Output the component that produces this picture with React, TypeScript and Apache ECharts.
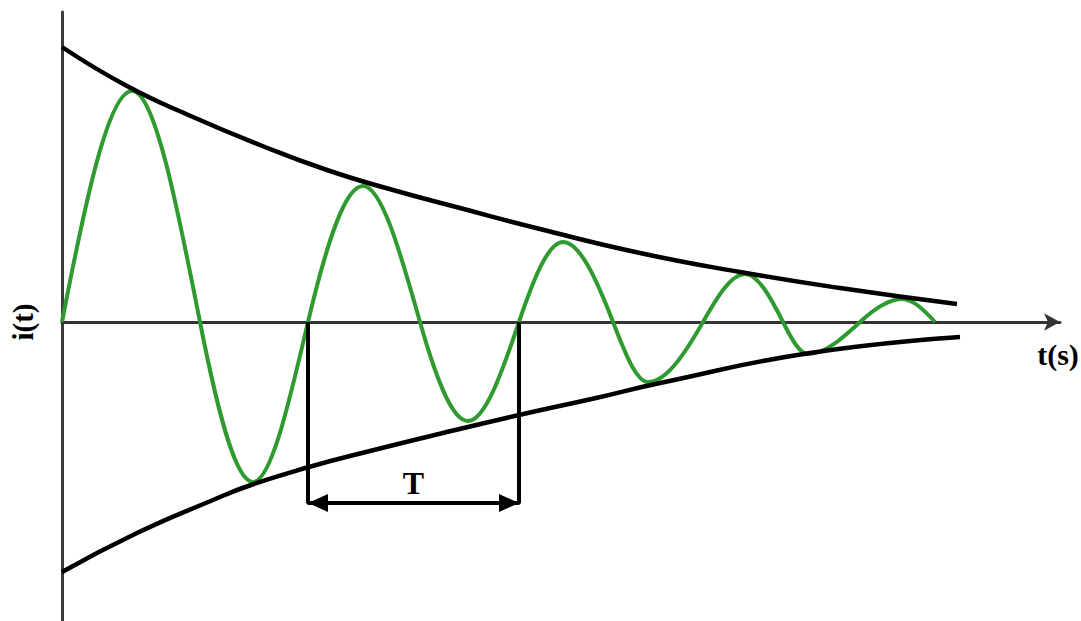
import React, { useEffect, useRef } from "react";
import * as echarts from "echarts";

// Upper decay envelope (t, i)
const tUpper = [0, 0.65, 1.31, 1.98, 2.65, 3.31, 3.98, 4.78, 5.78, 6.78, 7.78, 8.95];
const iUpper = [2.75, 2.36, 2.05, 1.77, 1.52, 1.32, 1.14, 0.93, 0.69, 0.5, 0.34, 0.18];

// Lower decay envelope (t, i)
const tLower = [0, 0.75, 1.51, 1.89, 2.47, 3.04, 3.81, 4.57, 5.34, 5.98, 7.48, 8.98];
const iLower = [-2.5, -2.11, -1.78, -1.63, -1.45, -1.3, -1.11, -0.93, -0.76, -0.61, -0.31, -0.15];

// Damped oscillation i(t): zero crossings and extrema
const tWave = [0, 0.7, 1.38, 1.91, 2.46, 3.01, 3.58, 4.06, 4.57, 5.01, 5.51, 5.86, 6.41, 6.83, 7.21, 7.46, 7.98, 8.4, 8.73];
const iWave = [0, 2.31, 0, -1.6, 0, 1.36, 0, -0.99, 0, 0.8, 0, -0.6, 0, 0.48, 0, -0.32, 0, 0.23, 0];

// Period marker
const periodStart = 2.46;
const periodEnd = 4.57;
const bracketLevel = -1.81;
const periodLabel = "T";

const xName = "t(s)";
const yName = "i(t)";

const zip = (a: number[], b: number[]) => a.map((v, k) => [v, b[k]]);

export default function App() {
  const ref = useRef<HTMLDivElement>(null);
  useEffect(() => {
    if (!ref.current) return;
    const chart = echarts.init(ref.current, null, { renderer: "svg" });
    const serif = "'Liberation Serif', 'Times New Roman', serif";

    // Wave drawn as a sinusoid-like Hermite curve through the read points
    const renderWave = (_params: any, api: any) => {
      const pts: number[][] = tWave.map((t, k) => api.coord([t, iWave[k]]));
      const n = pts.length;
      const slopes = pts.map((_p, k) => {
        if (iWave[k] !== 0) return 0;
        const a = pts[Math.max(k - 1, 0)];
        const b = pts[Math.min(k + 1, n - 1)];
        return ((Math.PI / 2) * (b[1] - a[1])) / (b[0] - a[0]);
      });
      let d = `M${pts[0][0]},${pts[0][1]}`;
      for (let k = 0; k < n - 1; k++) {
        const [x0, y0] = pts[k];
        const [x1, y1] = pts[k + 1];
        const dx = x1 - x0;
        const c1x = x0 + dx / 3;
        const c1y = y0 + (slopes[k] * dx) / 3;
        const c2x = x1 - dx / 3;
        const c2y = y1 - (slopes[k + 1] * dx) / 3;
        d += ` C${c1x},${c1y} ${c2x},${c2y} ${x1},${y1}`;
      }
      return {
        type: "path",
        shape: { pathData: d },
        style: { stroke: "#2f9a2f", lineWidth: 4, fill: "none" },
      };
    };

    chart.setOption({
      animation: false,
      backgroundColor: "#ffffff",
      grid: { left: 62, top: 12, width: 998, height: 610, outerBoundsMode: "none", containLabel: false },
      xAxis: {
        type: "value",
        min: 0,
        max: 9.98,
        axisLine: {
          show: true,
          onZero: true,
          symbol: ["none", "arrow"],
          symbolSize: [13, 16],
          lineStyle: { color: "#333", width: 3 },
        },
        axisTick: { show: false },
        axisLabel: { show: false },
        splitLine: { show: false },
      },
      yAxis: {
        type: "value",
        min: -3.0,
        max: 3.1,
        axisLine: { show: true, onZero: false, lineStyle: { color: "#3a3a3a", width: 3 } },
        axisTick: { show: false },
        axisLabel: { show: false },
        splitLine: { show: false },
      },
      graphic: [
        {
          type: "text",
          x: 1058,
          y: 354,
          style: {
            text: xName,
            fontFamily: serif,
            fontWeight: "bold",
            fontSize: 30,
            fill: "#000",
            align: "center",
            verticalAlign: "middle",
          },
        },
        {
          type: "text",
          x: 23,
          y: 322,
          rotation: Math.PI / 2,
          style: {
            text: yName,
            fontFamily: serif,
            fontWeight: "bold",
            fontSize: 29,
            fill: "#000",
            align: "center",
            verticalAlign: "middle",
          },
        },
      ],
      series: [
        {
          type: "custom",
          name: "wave",
          data: zip(tWave, iWave),
          encode: { x: 0, y: 1 },
          renderItem: (params: any, api: any) =>
            params.dataIndex === 0 ? renderWave(params, api) : null,
          silent: true,
          z: 2,
        },
        {
          type: "line",
          name: "upper",
          data: zip(tUpper, iUpper),
          smooth: true,
          showSymbol: false,
          lineStyle: { color: "#000", width: 4.5 },
          z: 3,
        },
        {
          type: "line",
          name: "lower",
          data: zip(tLower, iLower),
          smooth: true,
          showSymbol: false,
          lineStyle: { color: "#000", width: 4.5 },
          z: 3,
        },
        {
          type: "line",
          name: "period",
          data: [
            [periodStart, 0],
            [periodStart, bracketLevel],
            [periodEnd, bracketLevel],
            [periodEnd, 0],
          ],
          showSymbol: false,
          lineStyle: { color: "#000", width: 4 },
          z: 4,
          markLine: {
            silent: true,
            symbol: ["triangle", "triangle"],
            symbolSize: [18, 20],
            symbolOffset: [[0, 10], [0, 10]],
            lineStyle: { color: "#000", width: 4, type: "solid" },
            label: {
              show: true,
              position: "middle",
              formatter: periodLabel,
              color: "#000",
              fontFamily: serif,
              fontWeight: "bold",
              fontSize: 32,
              distance: 4,
            },
            data: [[{ coord: [periodStart, bracketLevel] }, { coord: [periodEnd, bracketLevel] }]],
          },
        },
      ],
    });
    return () => chart.dispose();
  }, []);
  return (
    <div
      ref={ref}
      style={{ position: "absolute", left: 0, top: 0, width: 1081, height: 621 }}
    />
  );
}
